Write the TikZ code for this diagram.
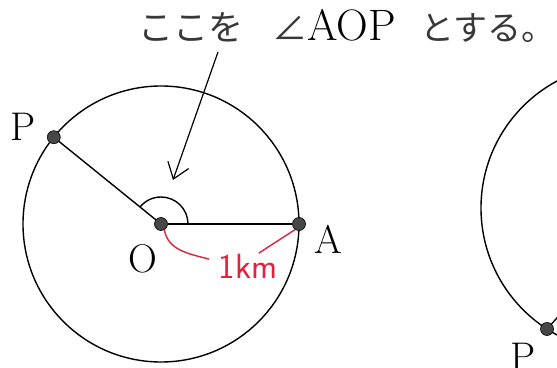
\documentclass[tikz,border=0pt]{standalone}
\usepackage{fontspec}
\usepackage{tikz}
\usetikzlibrary{arrows.meta}
\newfontfamily\jafont{Noto Sans CJK JP}
\definecolor{penred}{RGB}{228,32,58}
\newcommand\kana[1]{{\jafont\fontsize{35}{40}\selectfont\color{black!78}#1}}

\begin{document}
\begin{tikzpicture}[x=1pt, y=1pt, line width=1.4pt, >={Straight Barb[length=15pt,width=22pt]},
  every node/.style={font=\fontsize{40}{48}\selectfont},
  pnt/.style={circle, fill=black!72, draw=black, line width=0.6pt, inner sep=0pt, minimum size=13pt}]
\useasboundingbox (0,0) rectangle (557,367);
% title
\node[anchor=base east, inner sep=0pt] (ttla) at (244,326) {\kana{ここを}};
\node[anchor=base, inner sep=0pt, font=\fontsize{44}{48}\selectfont] (ttlb) at (334,326) {\kana{∠}AOP};
\node[anchor=base east, inner sep=0pt, font=\fontsize{34}{40}\selectfont] (ttlc) at (556,326)
  {{\jafont\color{black!78}とする。}};
% left circle
\draw (161,143) circle[radius=138pt];
\node[pnt] (o) at (161,143) {};
\node[pnt] (a) at (299,143) {};
\node[pnt] (p) at (53.8,229.8) {};
\draw (o) -- (a);
\draw (o) -- (p);
\draw (o.center) ++(27,0) arc[start angle=0, end angle=141, radius=27pt];
\node (plbl) at (23.5,240.5) {P};
\node (olbl) at (142.5,108.5) {O};
\node (albl) at (328,128) {A};
\coordinate (tail) at (218,315);
\coordinate (tip) at (173,187);
\draw[->, line width=1.2pt] (tail) -- (tip);
% radius in red
\node[text=penred, font=\sffamily\fontsize{35}{40}\selectfont, inner sep=0pt, inner xsep=9pt] (km) at (248,101) {1km};
\draw[penred] (o.-60) to[out=-80,in=165] (km.170);
\draw[penred] (km.50) -- (a.-125);
% right circle, cut by the edge
\begin{scope}
\clip (0,0) rectangle (557,367);
\draw (625,159) circle[radius=144pt];
\node[pnt] (p2) at (547,38) {};
\coordinate (r2) at (640,141);
\draw (p2) -- (r2);
\node (p2lbl) at (523,10) {P};
\end{scope}
\end{tikzpicture}
\end{document}
